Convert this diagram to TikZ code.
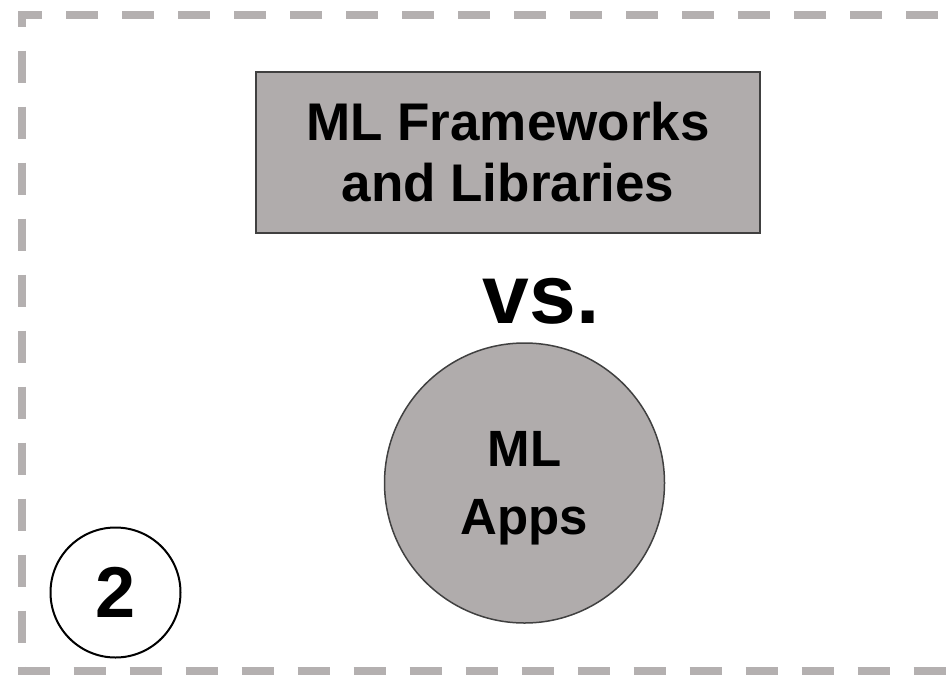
\documentclass[tikz,border=0pt]{standalone}
\usepackage{fontspec}
\setmainfont{Liberation Sans}
\usepackage{tikz}
\definecolor{shapegray}{RGB}{176,172,172}
\definecolor{edgegray}{RGB}{64,64,64}
\definecolor{dashgray}{RGB}{180,176,176}

\begin{document}
\begin{tikzpicture}[x=1pt, y=-1pt,
        grayshape/.style={draw=edgegray, line width=1.5pt, fill=shapegray, inner sep=0pt, align=center}]
        \useasboundingbox (0, 0) rectangle (947, 675);

        % Border
        \draw[dashgray, line width=8pt, dash pattern=on 32pt off 24pt, dash phase=50pt]
            (1000, 14.5) -- (22, 14.5) -- (22, 671) -- (1000, 671);

        % Nodes
        \node[grayshape, rectangle, minimum width=504pt, minimum height=161pt,
              font=\fontsize{53}{61}\selectfont\bfseries] (frameworks) at (508, 152.5)
              {ML Frameworks\\and Libraries};
        \node[font=\fontsize{84}{90}\selectfont\bfseries, anchor=base] (versus) at (541, 323) {vs.};
        \node[grayshape, circle, minimum size=280pt, text depth=0pt,
              font=\fontsize{51}{68}\selectfont\bfseries] (apps) at (524.5, 483) {ML\\Apps};

        % Labels
        \node[circle, draw, line width=2pt, minimum size=130pt, inner sep=0pt,
              font=\fontsize{72}{80}\selectfont\bfseries] (number) at (115.5, 592.5) {2};
    \end{tikzpicture}
\end{document}
